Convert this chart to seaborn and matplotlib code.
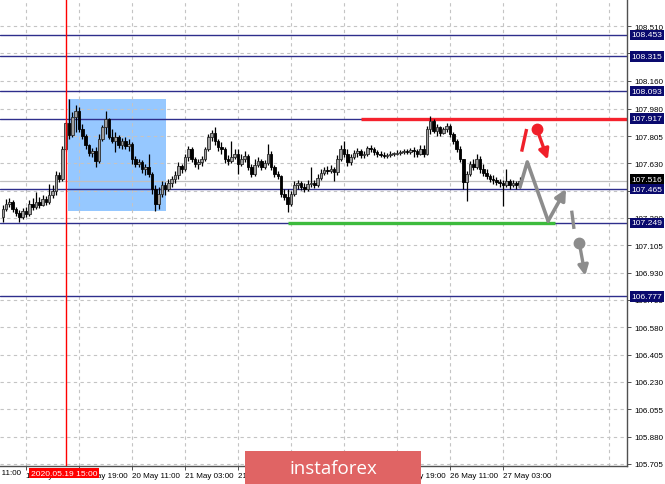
import numpy as np
import pandas as pd
import matplotlib
matplotlib.use("Agg")
import matplotlib.pyplot as plt
from matplotlib.patches import Rectangle
import seaborn as sns

# H1 bars, bar 0 = 18 May 20:00; open of each bar = previous close
first_open = 107.287
close = [107.338, 107.370, 107.383, 107.338, 107.312, 107.287, 107.325, 107.306, 107.370, 107.351,
         107.383, 107.364, 107.402, 107.383, 107.428, 107.453, 107.556, 107.530, 107.722, 107.889,
         107.812, 107.927, 107.966, 107.850, 107.805, 107.748, 107.696, 107.709, 107.645, 107.786,
         107.863, 107.914, 107.799, 107.773, 107.799, 107.748, 107.773, 107.741, 107.754, 107.658,
         107.626, 107.639, 107.594, 107.607, 107.562, 107.466, 107.370, 107.434, 107.492, 107.466,
         107.504, 107.530, 107.556, 107.613, 107.594, 107.671, 107.722, 107.658, 107.626, 107.639,
         107.658, 107.722, 107.799, 107.825, 107.773, 107.735, 107.722, 107.658, 107.645, 107.671,
         107.690, 107.626, 107.658, 107.677, 107.607, 107.562, 107.620, 107.645, 107.607, 107.632,
         107.690, 107.607, 107.562, 107.549, 107.434, 107.415, 107.370, 107.434, 107.492, 107.504,
         107.479, 107.466, 107.498, 107.504, 107.492, 107.536, 107.568, 107.588, 107.581, 107.594,
         107.575, 107.658, 107.722, 107.690, 107.639, 107.671, 107.696, 107.709, 107.684, 107.690,
         107.729, 107.722, 107.703, 107.690, 107.684, 107.677, 107.684, 107.690, 107.690, 107.696,
         107.703, 107.709, 107.703, 107.716, 107.709, 107.690, 107.722, 107.690, 107.850, 107.901,
         107.837, 107.863, 107.825, 107.850, 107.869, 107.818, 107.773, 107.722, 107.658, 107.511,
         107.562, 107.626, 107.607, 107.658, 107.594, 107.568, 107.549, 107.530, 107.524, 107.511,
         107.504, 107.492, 107.517, 107.492, 107.504, 107.492, 107.516]
high = [107.363, 107.402, 107.408, 107.395, 107.351, 107.331, 107.344, 107.351, 107.395, 107.408,
        107.447, 107.415, 107.428, 107.421, 107.498, 107.492, 107.581, 107.575, 107.741, 107.901,
        108.042, 107.959, 108.004, 107.991, 107.882, 107.818, 107.754, 107.729, 107.735, 107.818,
        107.876, 107.966, 107.921, 107.850, 107.831, 107.812, 107.792, 107.799, 107.786, 107.767,
        107.677, 107.658, 107.652, 107.626, 107.690, 107.575, 107.492, 107.479, 107.517, 107.511,
        107.530, 107.549, 107.581, 107.639, 107.626, 107.690, 107.741, 107.735, 107.671, 107.658,
        107.677, 107.735, 107.818, 107.844, 107.863, 107.786, 107.767, 107.735, 107.684, 107.773,
        107.722, 107.722, 107.690, 107.709, 107.690, 107.626, 107.658, 107.671, 107.658, 107.652,
        107.754, 107.709, 107.620, 107.581, 107.556, 107.466, 107.466, 107.453, 107.517, 107.524,
        107.517, 107.504, 107.524, 107.607, 107.524, 107.562, 107.594, 107.607, 107.613, 107.620,
        107.607, 107.684, 107.748, 107.773, 107.722, 107.690, 107.716, 107.729, 107.722, 107.709,
        107.741, 107.748, 107.735, 107.716, 107.709, 107.703, 107.696, 107.709, 107.703, 107.716,
        107.716, 107.722, 107.722, 107.729, 107.735, 107.722, 107.748, 107.748, 107.869, 107.933,
        107.914, 107.882, 107.869, 107.863, 107.889, 107.882, 107.831, 107.786, 107.741, 107.658,
        107.581, 107.645, 107.658, 107.690, 107.677, 107.626, 107.594, 107.562, 107.556, 107.543,
        107.530, 107.524, 107.594, 107.530, 107.524, 107.517, 107.543]
low = [107.254, 107.325, 107.351, 107.319, 107.293, 107.254, 107.274, 107.287, 107.293, 107.331,
       107.338, 107.344, 107.357, 107.364, 107.370, 107.408, 107.428, 107.511, 107.517, 107.709,
       107.786, 107.799, 107.831, 107.831, 107.786, 107.722, 107.677, 107.671, 107.607, 107.632,
       107.773, 107.818, 107.786, 107.761, 107.703, 107.729, 107.722, 107.722, 107.709, 107.626,
       107.607, 107.607, 107.568, 107.556, 107.543, 107.434, 107.325, 107.338, 107.415, 107.428,
       107.453, 107.479, 107.504, 107.530, 107.568, 107.581, 107.645, 107.639, 107.607, 107.594,
       107.613, 107.645, 107.709, 107.773, 107.748, 107.709, 107.690, 107.632, 107.620, 107.632,
       107.658, 107.562, 107.613, 107.639, 107.588, 107.543, 107.549, 107.607, 107.588, 107.594,
       107.620, 107.588, 107.543, 107.530, 107.415, 107.395, 107.319, 107.357, 107.421, 107.466,
       107.460, 107.447, 107.453, 107.479, 107.472, 107.479, 107.524, 107.556, 107.562, 107.568,
       107.517, 107.556, 107.645, 107.671, 107.613, 107.620, 107.658, 107.671, 107.664, 107.664,
       107.677, 107.703, 107.684, 107.671, 107.671, 107.664, 107.664, 107.671, 107.677, 107.684,
       107.684, 107.690, 107.690, 107.690, 107.671, 107.671, 107.684, 107.671, 107.684, 107.818,
       107.825, 107.805, 107.805, 107.818, 107.831, 107.799, 107.754, 107.703, 107.639, 107.466,
       107.389, 107.549, 107.588, 107.594, 107.568, 107.549, 107.530, 107.511, 107.498, 107.492,
       107.479, 107.357, 107.479, 107.466, 107.479, 107.466, 107.472]

levels = [108.453, 108.315, 108.093, 107.917, 107.465, 107.249, 106.777]
bid_price = 107.516
resistance = 107.917
support = 107.249
resistance_start = 108.1
support_span = [86.1, 166.7]
red_line_bar = 19
box_bars = [19.7, 49.3]
box_prices = [107.325, 108.042]

y_ticks = [105.705, 105.880, 106.055, 106.230, 106.405, 106.580, 106.755, 106.930, 107.105,
           107.280, 107.455, 107.630, 107.805, 107.980, 108.160, 108.335, 108.510]
x_tick_bars = [7, 23, 39, 55, 71, 87, 103, 119, 135, 151]
x_tick_labels = ["19 May 03:00", "19 May 19:00", "20 May 11:00", "21 May 03:00",
                 "21 May 19:00", "22 May 11:00", "25 May 03:00", "25 May 19:00", "26 May 11:00",
                 "27 May 03:00"]
cut_label_bar = -9
cut_label = "18 May 11:00"
grid_bars = [cut_label_bar] + x_tick_bars + [167, 183]
x_range = [-0.85, 188.4]
y_range = [105.691, 108.683]

# forecast sketch
zigzag_bars = [156.1, 158.3, 164.6]
zigzag_prices = [107.479, 107.639, 107.261]
zigzag_tip = (170.0, 107.466)
red_dash_bars = [156.6, 158.1]
red_dash_prices = [107.705, 107.850]
red_dot = (161.2, 107.850)
red_tip = (164.5, 107.654)
gray_dash_bars = [171.7, 172.4]
gray_dash_prices = [107.327, 107.210]
gray_dot = (174.0, 107.120)
gray_tip = (175.8, 106.910)

sns.set_theme(style="white")
plt.rcParams['font.family'] = ['Liberation Sans', 'DejaVu Sans']
FS = 5.8

fig = plt.figure(figsize=(6.65, 4.85), dpi=100)
ax = fig.add_axes([0, 18 / 485, 627 / 665, 467 / 485])

bars = pd.DataFrame({'close': close, 'high': high, 'low': low})
bars['open'] = [first_open] + close[:-1]
bars['x'] = np.arange(len(bars))

# grid
for b in grid_bars:
    ax.axvline(b, color='#c4c4c4', lw=0.8, ls=(0, (3, 3)), zorder=1)
for t in y_ticks:
    ax.axhline(t, color='#c4c4c4', lw=0.8, ls=(0, (3, 3)), zorder=1)

ax.add_patch(Rectangle((box_bars[0], box_prices[0]), box_bars[1] - box_bars[0],
                       box_prices[1] - box_prices[0], facecolor='#96c8ff', edgecolor='none', zorder=0.5))

ax.axhline(bid_price, color='#c0c0c0', lw=0.9, zorder=1.5)
for lv in levels:
    ax.axhline(lv, color='#2e2e8c', lw=1.0, zorder=2)

ax.hlines(resistance, resistance_start, x_range[1], color='#f5222d', lw=2.4, zorder=2.5)
ax.hlines(support, support_span[0], support_span[1], color='#3dbb3d', lw=2.4, zorder=2.5)

# candles
ax.vlines(bars['x'], bars['low'], bars['high'], color='black', lw=0.9, zorder=3)
up = bars['close'] >= bars['open']
body_lo = bars[['open', 'close']].min(axis=1)
body_h = (bars['close'] - bars['open']).abs().clip(lower=0.004)
ax.bar(bars['x'][up], body_h[up], bottom=body_lo[up], width=0.78,
       color='#a0a0a0', edgecolor='#2a2a2a', linewidth=0.6, zorder=4)
ax.bar(bars['x'][~up], body_h[~up], bottom=body_lo[~up], width=0.78,
       color='black', edgecolor='black', linewidth=0.6, zorder=4)

ax.axvline(red_line_bar, color='#ff0000', lw=1.0, zorder=5)

# forecast
sns.lineplot(x=zigzag_bars, y=zigzag_prices, ax=ax, color='#8c8c8c', lw=2.6, zorder=6, sort=False)
ax.annotate('', xy=zigzag_tip, xytext=(zigzag_bars[-1], zigzag_prices[-1]),
            arrowprops=dict(arrowstyle='-|>', color='#8c8c8c', lw=2.6, mutation_scale=16,
                            shrinkA=0, shrinkB=0), zorder=6)
ax.plot(red_dash_bars, red_dash_prices, color='#f0202a', lw=2.4, zorder=6, solid_capstyle='butt')
ax.plot(*red_dot, 'o', color='#f0202a', ms=7.5, zorder=6)
ax.annotate('', xy=red_tip, xytext=red_dot,
            arrowprops=dict(arrowstyle='-|>', color='#f0202a', lw=2.4, mutation_scale=15,
                            shrinkA=0, shrinkB=0), zorder=6)
ax.plot(gray_dash_bars, gray_dash_prices, color='#8c8c8c', lw=2.4, zorder=6, solid_capstyle='butt')
ax.plot(*gray_dot, 'o', color='#8c8c8c', ms=7.5, zorder=6)
ax.annotate('', xy=gray_tip, xytext=gray_dot,
            arrowprops=dict(arrowstyle='-|>', color='#8c8c8c', lw=2.4, mutation_scale=15,
                            shrinkA=0, shrinkB=0), zorder=6)

# axes
for s in ['top', 'left']:
    ax.spines[s].set_visible(False)
for s in ['right', 'bottom']:
    ax.spines[s].set_color('#505050')
    ax.spines[s].set_linewidth(1.0)
ax.yaxis.tick_right()
ax.set_yticks(y_ticks)
ax.set_yticklabels([f"{t:.3f}" for t in y_ticks], fontsize=FS, color='black')
ax.set_xticks(x_tick_bars)
ax.set_xticklabels(x_tick_labels, fontsize=FS, ha='left', color='black')
ax.tick_params(axis='y', length=3, width=0.7, color='#505050', pad=2.5, right=True, left=False)
ax.tick_params(axis='x', length=3, width=0.7, color='#505050', pad=1.5, bottom=True)
for lbl in ax.get_xticklabels():
    lbl.set_clip_on(False)

# limits last, set_ticks can widen the view
ax.set_xlim(*x_range)
ax.set_ylim(*y_range)

xtrans = ax.get_xaxis_transform()
ax.text(cut_label_bar, -0.0145, cut_label, transform=xtrans, fontsize=FS, color='black',
        ha='left', va='center', clip_on=False)

ytrans = ax.get_yaxis_transform()
for lv in levels:
    ax.text(1.007, lv, f"{lv:.3f}", transform=ytrans, fontsize=FS + 0.3, color='white', ha='left',
            va='center', bbox=dict(boxstyle='square,pad=0.2', fc='#0a0a6e', ec='none'),
            zorder=8, clip_on=False)
ax.text(1.007, bid_price + 0.012, f"{bid_price:.3f}", transform=ytrans, fontsize=FS + 0.3, color='white',
        ha='left', va='center', bbox=dict(boxstyle='square,pad=0.2', fc='black', ec='none'),
        zorder=7, clip_on=False)

ax.text(red_line_bar - 0.4, -0.0155, "2020.05.19 15:00", transform=xtrans, fontsize=6.1, color='white',
        ha='center', va='center', bbox=dict(boxstyle='square,pad=0.2', fc='#ff0000', ec='none'),
        zorder=8, clip_on=False)

# watermark
fig.patches.append(Rectangle((245 / 665, 0), 176 / 665, 33 / 485, transform=fig.transFigure,
                             facecolor='#e06464', edgecolor='none', zorder=10))
fig.text(333 / 665, 16 / 485, "instaforex", color='white', fontsize=13.5, ha='center', va='center',
         family=['Open Sans', 'DejaVu Sans'], zorder=11)

fig.savefig('out.png', dpi=100)
